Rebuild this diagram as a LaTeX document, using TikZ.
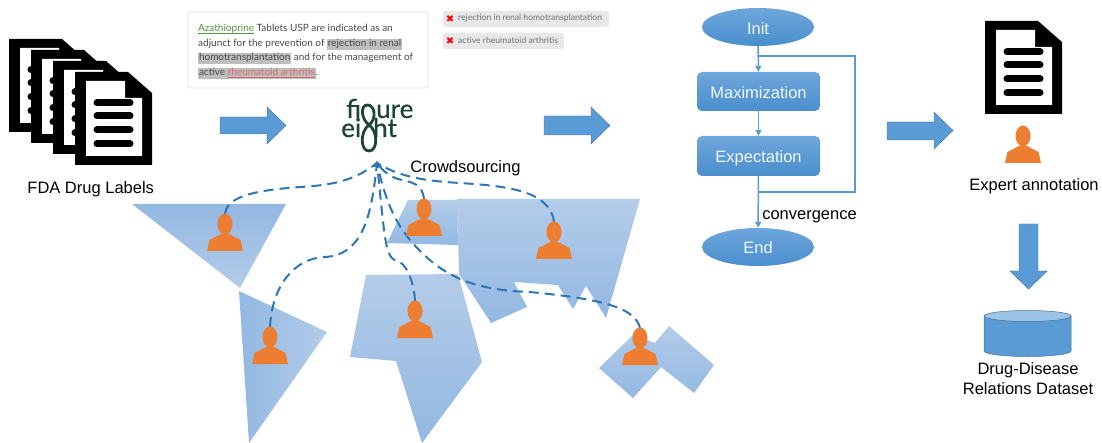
\documentclass[tikz,border=0pt]{standalone}
\usepackage{fontspec}
\setmainfont{Liberation Sans}
\newfontfamily\latofont{Lato}
\newfontfamily\logofont[FakeBold=0.6]{Lato}
\newfontfamily\symfont{DejaVu Sans}
\usetikzlibrary{arrows.meta,shapes.geometric}
\definecolor{blk}{HTML}{5B9BD5}
\definecolor{blkdark}{HTML}{41719C}
\definecolor{crowdblue}{HTML}{2E75B6}
\definecolor{mapdark}{HTML}{93B8E2}
\definecolor{maplight}{HTML}{B3CCE9}
\definecolor{personc}{HTML}{ED7D31}
\definecolor{logoc}{HTML}{1D4537}
\definecolor{bodytext}{HTML}{4A4A4A}
\definecolor{hl}{HTML}{BEBEBE}
\definecolor{greenlink}{HTML}{4E9A3B}
\definecolor{redlink}{HTML}{D9686A}
\definecolor{flowtop}{HTML}{6EA6DC}
\definecolor{flowbot}{HTML}{4A8ECD}
\newcommand{\hlbox}[1]{\setlength{\fboxsep}{0.8pt}\colorbox{hl}{\vphantom{Ajg}#1}}
\newcommand{\ulink}[1]{\underline{\smash{#1}}}
\tikzset{
  x=1pt,y=-1pt,
  lbl/.style={font=\fontsize{16.5}{18}\selectfont,text=black,inner sep=0pt},
  boxlbl/.style={font=\fontsize{16.5}{18}\selectfont,text=white!92!blk,inner sep=0pt},
  blockarrow/.style={fill=blk,draw=blkdark,line width=0.4pt,line join=miter},
  vgrad/.style={top color=mapdark,bottom color=maplight,shading angle=0},
  vgradr/.style={top color=maplight,bottom color=mapdark,shading angle=0},
  hgrad/.style={left color=mapdark,right color=maplight},
  flowfill/.style={top color=flowtop,bottom color=flowbot,draw=none},
  flowline/.style={draw=blk,line width=1.5pt},
  flowarrow/.style={flowline,-{Triangle[length=6pt,width=6pt]}},
  crowd/.style={draw=crowdblue,line width=2pt,dash pattern=on 10pt off 6pt},
  doctext/.style={font=\latofont\fontsize{10}{12}\selectfont,text=bodytext,inner sep=0pt,anchor=base west},
  tagtext/.style={font=\latofont\fontsize{8.6}{10}\selectfont,text=black!55,inner sep=0pt,anchor=west},
  tagbox/.style={fill=black!9,draw=none,rounded corners=2.5pt},
  tagx/.style={font=\symfont\fontsize{10}{10}\selectfont,text=red,inner sep=0pt},
  logotext/.style={font=\logofont\fontsize{26}{28}\selectfont,text=logoc,inner sep=0pt,anchor=base west},
  docicon/.pic={
    \fill[black] (0,0)--(53,0)--(77,21)--(77,93)--(0,93)--cycle;
    \fill[white] (11,9)--(50,9)--(50,26)--(67,26)--(67,84)--(11,84)--cycle;
    \foreach \yy in {31,44,58,72}{\draw[black,line width=7pt,line cap=round] (22,\yy)--(55,\yy);}
  },
  workerpic/.pic={
    \fill[personc] (0,10) ellipse [x radius=7.5,y radius=10.5];
    \fill[personc] (-18,37)--(-15.5,26)--(-4,20)--(4,20)--(15.5,26)--(18,37)--cycle;
  },
}
\begin{document}
\begin{tikzpicture}
\useasboundingbox (0,0) rectangle (1102,443);
% document stack
\pic at (9,39) {docicon};
\pic at (31,50) {docicon};
\pic at (53,61) {docicon};
\pic at (75,72) {docicon};
\node[lbl] (fda) at (90.7,189) {FDA Drug Labels};
% annotation box
\draw[draw=black!13,fill=white,line width=0.7pt,rounded corners=2pt] (188,12) rectangle (428,88);
\node[doctext] (l1) at (198,32) {\textcolor{greenlink}{\ulink{Azathioprine}} Tablets USP are indicated as an};
\node[doctext] (l2) at (198,47) {adjunct for the prevention of \hlbox{rejection in renal}};
\node[doctext] (l3) at (198,61) {\hlbox{homotransplantation} and for the management of};
\node[doctext] (l4) at (198,76) {\hlbox{active \textcolor{redlink}{\ulink{rheumatoid arthritis}}}.};
% tags
\fill[tagbox] (443,11) rectangle (609,27);
\fill[tagbox] (443,33) rectangle (564,49);
\node[tagx] (x1) at (450,19) {✖};
\node[tagx] (x2) at (450,41) {✖};
\node[tagtext] (t1) at (458,18.5) {rejection in renal homotransplantation};
\node[tagtext] (t2) at (458,40.5) {active rheumatoid arthritis};
% arrows
\path[blockarrow] (220,117)--(267,117)--(267,107)--(286,125.5)--(267,144)--(267,134)--(220,134)--cycle;
\path[blockarrow] (544,116)--(591,116)--(591,107)--(610,125.5)--(591,144)--(591,135)--(544,135)--cycle;
\path[blockarrow] (887,122)--(934,122)--(934,112)--(953,130.5)--(934,149)--(934,140)--(887,140)--cycle;
\path[blockarrow] (1019,224)--(1038,224)--(1038,271)--(1047,271)--(1028.5,289)--(1010,271)--(1019,271)--cycle;
% logo
\node[logotext] (fi) at (346,118) {fi};
\node[logotext] (ure) at (376,118) {ure};
\node[logotext] (ei) at (341,137) {ei};
\node[logotext] (ht) at (373,137) {ht};
\draw[logoc,line width=2.8pt] (369,125) .. controls (377,119) and (375,105) .. (367.5,105) .. controls (360,105) and (361,119) .. (369,125) .. controls (378,131) and (378,151) .. (369,151) .. controls (360,151) and (360,131) .. (369,125);
\node[lbl] (crowdlbl) at (465.5,168) {Crowdsourcing};
% world map
\shade[vgrad] (132,204)--(286,204)--(240,288)--cycle;
\shade[hgrad] (239,291)--(327,332)--(249,443)--cycle;
\shade[vgradr] (366,275)--(458,274)--(482,362)--(422,443)--(396,361)--(350,357)--cycle;
\shade[vgradr] (408,200)--(457,200)--(458,245)--(387,243)--cycle;
\shade[vgradr] (457,199)--(640,199)--(606,318)--(586,286)--(573,309)--(558,285)--(514,282)--(527,307)--(491,323)--(459,274)--cycle;
\shade[vgradr] (599,368)--(633,335)--(655,343)--(669,326)--(714,365)--(694,393)--(661,367)--(633,398)--cycle;
% crowd workers
\coordinate (hub) at (377,163);
\coordinate (p1) at (225,214);
\coordinate (p2) at (270,327);
\coordinate (p3) at (415,301);
\coordinate (p4) at (424,199);
\coordinate (p5) at (554,222);
\coordinate (p6) at (640,328);
\coordinate (p7) at (1023,126);
\draw[crowd] (p1) .. controls (227,195) and (260,190) .. (300,187) .. controls (335,185) and (355,180) .. (hub);
\draw[crowd] (p2) .. controls (272,285) and (295,258) .. (325,257) .. controls (365,255) and (372,210) .. (hub);
\draw[crowd] (p3) .. controls (414,280) and (405,262) .. (397,261) .. controls (385,258) and (385,240) .. (hub);
\draw[crowd] (p4) .. controls (422,180) and (405,182) .. (395,178) .. controls (388,175) and (382,170) .. (hub);
\draw[crowd] (p5) .. controls (550,190) and (505,186) .. (460,183) .. controls (425,181) and (400,177) .. (hub);
\draw[crowd] (p6) .. controls (635,305) and (590,298) .. (530,292) .. controls (470,290) and (440,275) .. (410,240) .. controls (395,222) and (385,200) .. (hub);
\fill[crowdblue] (hub)++(0,-2)--++(5,6)--++(-10,0)--cycle;
\foreach \p in {p1,p2,p3,p4,p5,p6,p7}{\pic at (\p) {workerpic};}
% EM flow
\node[ellipse,flowfill,minimum width=112pt,minimum height=38pt,inner sep=0pt] (init) at (758,27) {};
\node[boxlbl,yshift=-1.5pt] at (init.center) {Init};
\node[rectangle,rounded corners=5pt,flowfill,minimum width=123pt,minimum height=39pt,inner sep=0pt] (maxi) at (758.5,91.5) {};
\node[boxlbl,yshift=-1.5pt] at (maxi.center) {Maximization};
\node[rectangle,rounded corners=5pt,flowfill,minimum width=123pt,minimum height=40pt,inner sep=0pt] (expe) at (758.5,156) {};
\node[boxlbl,yshift=-2pt] at (expe.center) {Expectation};
\node[ellipse,flowfill,minimum width=112pt,minimum height=38pt,inner sep=0pt] (endn) at (758,247) {};
\node[boxlbl,yshift=-1pt] at (endn.center) {End};
\coordinate (la) at (758.5,192);
\coordinate (lb) at (758.5,56);
\draw[flowline] (la) -- (855,192) -- (855,56) -- (lb);
\draw[flowarrow] (init) -- (maxi);
\draw[flowarrow] (maxi) -- (expe);
\draw[flowarrow] (expe) -- (endn);
\node[lbl] (conv) at (809.5,216.5) {convergence};
% expert
\pic at (985,21) {docicon};
\node[lbl] (expert) at (1034,186.5) {Expert annotation};
% cylinder
\path[fill=blk,draw=blkdark,line width=0.5pt] (984,316) -- (984,351) arc[start angle=180,end angle=360,x radius=43.5,y radius=-5.5] -- (1071,316) -- cycle;
\path[fill=blk!60!white,draw=blkdark,line width=0.5pt] (1027.5,316) ellipse [x radius=43.5,y radius=5.5];
\node[lbl,align=center] (dataset) at (1028,378.5) {Drug-Disease\\[2pt]Relations Dataset};
\end{tikzpicture}
\end{document}
